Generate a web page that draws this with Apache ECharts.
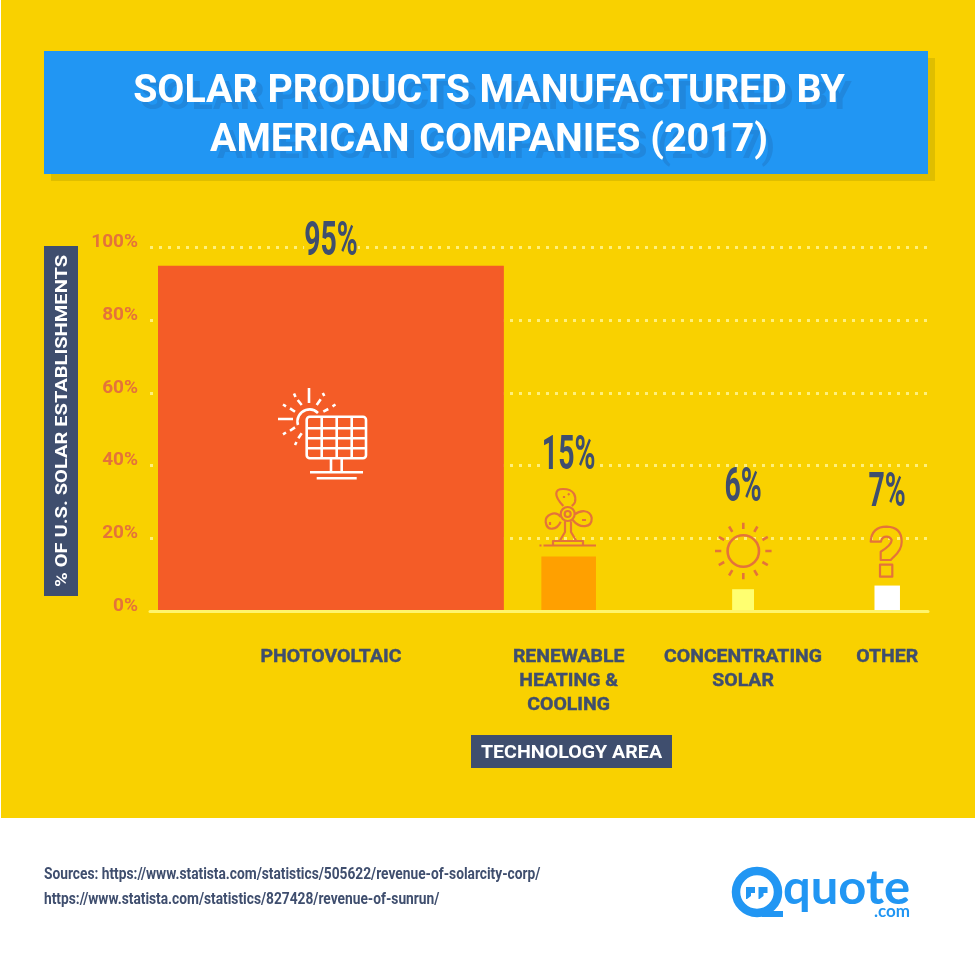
<!DOCTYPE html>
<html>
<head>
<meta charset="utf-8">
<title>Solar products manufactured by American companies (2017)</title>
<script src="https://cdn.jsdelivr.net/npm/echarts@6/dist/echarts.min.js"></script>
<style>
  html, body { margin: 0; padding: 0; background: #fff; }
  #chart { width: 975px; height: 968px; }
</style>
</head>
<body>
<div id="chart"></div>
<script>
const categories = ['PHOTOVOLTAIC', 'RENEWABLE\nHEATING &\nCOOLING', 'CONCENTRATING\nSOLAR', 'OTHER'];
const shares = [95, 15, 6, 7];
const valueLabels = ['95%', '15%', '6%', '7%'];
const yTicks = [0, 20, 40, 60, 80, 100];

const titleText = 'SOLAR PRODUCTS MANUFACTURED BY\nAMERICAN COMPANIES (2017)';
const yAxisTitle = '% OF U.S. SOLAR ESTABLISHMENTS';
const xAxisTitle = 'TECHNOLOGY AREA';
const sourceLines = [
  'Sources: https://www.statista.com/statistics/505622/revenue-of-solarcity-corp/',
  'https://www.statista.com/statistics/827428/revenue-of-sunrun/'
];

// layout only: the x axis runs in the same units as y, so a bar is as wide as it is tall
const barCentres = [49.7, 115, 162.9, 202.5];
const labelGaps = [5, 82, 82, 74];
const barColours = ['#f45c27', '#ffa000', '#ffff70', '#ffffff'];

const INK = '#3f4e6e';
const BLUE = '#2196f3';
const ICON = '#e4733a';
const WHITE = '#ffffff';
const YELLOW = '#f9d100';

// path coordinates are page pixels, box is the path's own bounds
function pathEl(d, box, stroke, lineWidth, fill) {
  return {
    type: 'path',
    shape: {
      pathData: 'M' + box[0] + ' ' + box[1] + 'l0 0 M' + box[2] + ' ' + box[3] + 'l0 0 ' + d,
      x: box[0], y: box[1], width: box[2] - box[0], height: box[3] - box[1]
    },
    style: { stroke: stroke, lineWidth: lineWidth || 0, fill: fill || 'none', lineJoin: 'round' }
  };
}

function textEl(text, x, y, font, fill, extra, align) {
  return Object.assign({
    type: 'text', x: x, y: y, z: 20,
    style: { text: text, x: 0, y: 0, font: font, fill: fill, align: align || 'center', verticalAlign: 'middle' }
  }, extra);
}

function rectEl(x, y, w, h, fill, z) {
  return { type: 'rect', z: z || 0, shape: { x: x, y: y, width: w, height: h }, style: { fill: fill } };
}

const solarIcon =
  'M298 425A12 12 0 0 1 318 413 ' +
  'M309 388V403 M278 419H293 ' +
  'M316.7 405L320.7 399.3 M324.3 396L322.8 393 ' +
  'M323.3 411.7L328.3 409 M332.5 406.3L335.5 404.5 ' +
  'M301.7 405L297.7 400 M295.5 397L294 393.5 ' +
  'M295 411.7L290 408.3 M286 406.3L283 404.5 ' +
  'M295 427.3L290 430.7 M286 432.5L283 434.3 ' +
  'M301.7 433.3L298.3 438.3 M296.5 442L295 445 ' +
  'M309.7 416.7H363A3 3 0 0 1 366 419.7V455.3A3 3 0 0 1 363 458.3H309.7A3 3 0 0 1 306.7 455.3V419.7A3 3 0 0 1 309.7 416.7Z ' +
  'M321.7 416.7V458.3 M336.7 416.7V458.3 M351.7 416.7V458.3 ' +
  'M306.7 428.3H366 M306.7 438.3H366 M306.7 448.3H366 ' +
  'M331 458.3V471 M341.7 458.3V471 M310 472.3H363 M316.7 478.3H356.7';

const fanIcon =
  'M563.3 506C553 495 555 489 563 489C575 489 576 497 575 502C574.5 504 573 505 571.7 506 ' +
  'M574 515C580 510 590 509 591.7 518C592 528 580 529 572.7 520 ' +
  'M560.7 516.7C555 510 545 515 545.7 522C547 532 557 530 560.7 521.7 ' +
  'M560.7 514A7 7 0 1 0 574.7 514A7 7 0 1 0 560.7 514Z ' +
  'M564.7 514A3 3 0 1 0 570.7 514A3 3 0 1 0 564.7 514Z ' +
  'M565 521.5V532L560 540.5 M571 521.5V532L576 540.5 ' +
  'M553 545V541H583V545 M543.5 545.5H596 M539.5 545.5H541.5 ' +
  'M564 496V498 M568 493.5L569.5 495 M550 522V525 M582 520H586';

let sunPath = 'M727.6 551A15.7 15.7 0 1 0 759 551A15.7 15.7 0 1 0 727.6 551Z';
for (let i = 0; i < 12; i++) {
  const a = i * Math.PI / 6;
  sunPath += ' M' + (743.3 + 22 * Math.cos(a)).toFixed(1) + ' ' + (551 + 22 * Math.sin(a)).toFixed(1) +
    'L' + (743.3 + 28.3 * Math.cos(a)).toFixed(1) + ' ' + (551 + 28.3 * Math.sin(a)).toFixed(1);
}

const questionIcon =
  'M870.7 541.7Q871.7 526.7 886.7 526.7Q901.7 527.3 901.7 541.7Q901.7 550 893.3 557.3L890.7 560H880.7V551.7' +
  'Q891.7 545 891.7 540Q890 536.7 886.7 536.7Q881.7 536.7 881 541.7Z ' +
  'M880 564.7H892.3V576.7H880Z';

const quoteMarks =
  'M746 887H755V893H751V896L747 899H746Z M758.5 887H767.5V893H763.5V896L759.5 899H758.5Z';

function renderBar(params, api) {
  const i = params.dataIndex;
  const v = api.value(1);
  const base = api.coord([api.value(0), 0]);
  const top = api.coord([api.value(0), v]);
  const w = api.size([v, 0])[0];
  return {
    type: 'group',
    children: [
      {
        type: 'rect',
        shape: { x: base[0] - w / 2, y: top[1], width: w, height: base[1] - top[1] },
        style: { fill: barColours[i] }
      },
      {
        type: 'text', x: base[0], y: top[1] - labelGaps[i], scaleX: 0.58, z2: 5,
        style: {
          text: valueLabels[i], x: 0, y: 0,
          font: 'bold 49px Roboto', fill: INK,
          align: 'center', verticalAlign: 'bottom', lineHeight: 36,
          backgroundColor: YELLOW
        }
      },
      {
        type: 'text', x: base[0], y: base[1] + 34, scaleX: 1.08,
        style: {
          text: categories[i], x: 0, y: 0,
          font: 'bold 18px Roboto', fill: INK, stroke: INK, lineWidth: 0.4,
          align: 'center', verticalAlign: 'top', lineHeight: 24
        }
      }
    ]
  };
}

function renderIcons() {
  return {
    type: 'group',
    children: [
      pathEl(solarIcon, [278, 388, 366, 479], WHITE, 2.6),
      pathEl(fanIcon, [539, 488, 597, 547], ICON, 2.2),
      pathEl(sunPath, [714, 522, 773, 580], ICON, 2.6),
      pathEl(questionIcon, [870, 526, 902, 577], ICON, 2.2),
      pathEl('M778 892A21 21 0 1 0 736 892A21 21 0 1 0 778 892Z', [736, 871, 778, 913], BLUE, 8.5),
      rectEl(762, 911, 21, 6, BLUE),
      pathEl(quoteMarks, [746, 887, 768, 899], 'none', 0, BLUE)
    ]
  };
}

const chart = echarts.init(document.getElementById('chart'), null, { renderer: 'canvas' });

chart.setOption({
  animation: false,
  backgroundColor: WHITE,
  title: {
    text: titleText,
    left: 484,
    top: 63,
    textAlign: 'center',
    z: 20,
    textStyle: {
      color: WHITE,
      fontFamily: 'Roboto',
      fontWeight: 'bold',
      fontSize: 39.3,
      lineHeight: 49,
      textShadowColor: '#2087dd',
      textShadowBlur: 0.5,
      textShadowOffsetX: 7,
      textShadowOffsetY: 7
    }
  },
  grid: { left: 150, right: 47, top: 247.5, bottom: 357, containLabel: false },
  xAxis: {
    type: 'value',
    min: 0,
    max: 213.7,
    axisTick: { show: false },
    axisLabel: { show: false },
    splitLine: { show: false },
    axisLine: { show: true, lineStyle: { color: '#fff56b', width: 3 } },
    z: 10
  },
  yAxis: {
    type: 'value',
    min: yTicks[0],
    max: yTicks[yTicks.length - 1],
    interval: 20,
    axisLine: { show: false },
    axisTick: { show: false },
    axisLabel: {
      margin: 12,
      color: ICON,
      fontFamily: 'Roboto',
      fontWeight: 'bold',
      fontSize: 19,
      verticalAlign: 'bottom',
      lineHeight: 10,
      formatter: '{value}%'
    },
    splitLine: {
      show: true,
      lineStyle: { color: '#fff07a', width: 3, type: [3, 6] }
    }
  },
  series: [{
    type: 'custom',
    renderItem: renderBar,
    coordinateSystem: 'cartesian2d',
    clip: false,
    z: 5,
    encode: { x: 0, y: 1 },
    data: shares.map((v, i) => [barCentres[i], v])
  }, {
    type: 'custom',
    renderItem: renderIcons,
    coordinateSystem: 'none',
    silent: true,
    z: 20,
    data: [0]
  }],
  graphic: {
    elements: [
      rectEl(1, 0, 974, 818, YELLOW, -10),
      rectEl(51, 58, 884, 123, '#dfbe00', 1),
      rectEl(44, 51, 884, 123, BLUE, 2),
      rectEl(44, 246, 34, 350, INK, 2),
      textEl(yAxisTitle, 62.5, 421, 'bold 17px Roboto', WHITE, { rotation: Math.PI / 2, scaleX: 1.18 }),
      rectEl(471, 735, 201, 33, INK, 2),
      textEl(xAxisTitle, 571.5, 753, 'bold 18px Roboto', WHITE, { scaleX: 1.09 }),
      textEl(sourceLines[0], 44, 875, 'bold 16px Roboto', INK, { scaleX: 0.859 }, 'left'),
      textEl(sourceLines[1], 44, 900, 'bold 16px Roboto', INK, { scaleX: 0.859 }, 'left'),
      textEl('quote', 910, 889, 'bold 47px Lato', BLUE, { scaleX: 1.04 }, 'right'),
      textEl('.com', 910, 912, 'bold 17px Lato', BLUE, null, 'right')
    ]
  }
});
</script>
</body>
</html>
